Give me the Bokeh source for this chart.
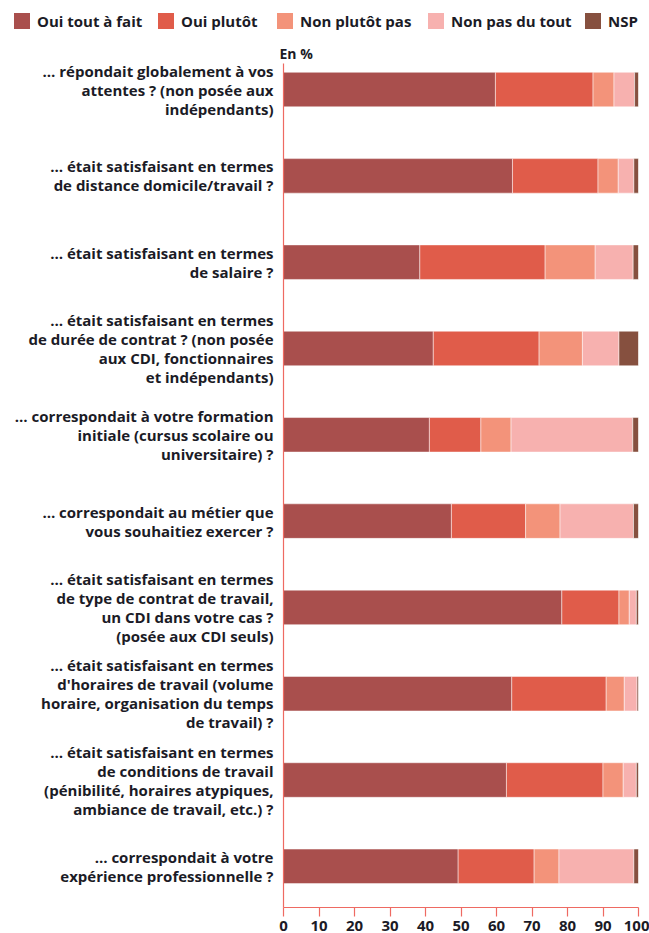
from bokeh.plotting import figure
from bokeh.layouts import column
from bokeh.models import Range1d, FixedTicker, Title, ColumnDataSource, Div
from bokeh.embed import file_html
from bokeh.resources import INLINE

questions = [
    "… répondait globalement à vos\nattentes ? (non posée aux\nindépendants)",
    "… était satisfaisant en termes\nde distance domicile/travail ?",
    "… était satisfaisant en termes\nde salaire ?",
    "… était satisfaisant en termes\nde durée de contrat ? (non posée\naux CDI, fonctionnaires\net indépendants)",
    "… correspondait à votre formation\ninitiale (cursus scolaire ou\nuniversitaire) ?",
    "… correspondait au métier que\nvous souhaitiez exercer ?",
    "… était satisfaisant en termes\nde type de contrat de travail,\nun CDI dans votre cas ?\n(posée aux CDI seuls)",
    "… était satisfaisant en termes\nd'horaires de travail (volume\nhoraire, organisation du temps\nde travail) ?",
    "… était satisfaisant en termes\nde conditions de travail\n(pénibilité, horaires atypiques,\nambiance de travail, etc.) ?",
    "… correspondait à votre\nexpérience professionnelle ?",
]

oui_tout_a_fait = [59.7, 64.5, 38.4, 42.2, 41.1, 47.3, 78.4, 64.3, 62.8, 49.2]
oui_plutot = [27.5, 24.1, 35.3, 29.8, 14.5, 20.9, 16.1, 26.6, 27.2, 21.4]
non_plutot_pas = [5.9, 5.7, 14.1, 12.2, 8.5, 9.7, 2.9, 5.1, 5.7, 7.0]
non_pas_du_tout = [5.8, 4.4, 10.7, 10.3, 34.3, 20.7, 2.0, 3.6, 3.7, 21.1]
nsp = [1.1, 1.3, 1.5, 5.5, 1.6, 1.4, 0.6, 0.4, 0.6, 1.3]

series_names = ["Oui tout à fait", "Oui plutôt", "Non plutôt pas", "Non pas du tout", "NSP"]
series_keys = ["oui_tout_a_fait", "oui_plutot", "non_plutot_pas", "non_pas_du_tout", "nsp"]
colors = ["#A94F4D", "#E05C4A", "#F3937A", "#F7B1AF", "#86503F"]
x_ticks = [0, 10, 20, 30, 40, 50, 60, 70, 80, 90, 100]
unit_label = "En %"

TEXT = "#1b1b26"
AXIS = "#EE6A62"
FONT = "Open Sans"
W = 649
LEG_H = 40
MAIN_H = 933 - LEG_H
LEG_SLOTS = [144, 119, 151, 157, 60]   # horizontal room for each legend entry (px)

pos = list(range(len(questions)))
source = ColumnDataSource(dict(
    y=pos,
    oui_tout_a_fait=oui_tout_a_fait,
    oui_plutot=oui_plutot,
    non_plutot_pas=non_plutot_pas,
    non_pas_du_tout=non_pas_du_tout,
    nsp=nsp,
))

# ---------- main chart ----------
p = figure(width=W, height=MAIN_H, x_range=Range1d(0, 100),
           y_range=Range1d(9.477, -0.302),
           output_backend="svg", toolbar_location=None,
           min_border_left=283, min_border_right=11, min_border_top=23,
           min_border_bottom=10)

renderers = p.hbar_stack(series_keys, y="y", height=0.4, color=colors,
                         source=source, line_color="white", line_width=0.6,
                         line_alpha=0.8)

p.xgrid.visible = False
p.ygrid.visible = False
p.outline_line_color = None
p.background_fill_color = "white"
p.border_fill_color = "white"

xa = p.xaxis[0]
xa.ticker = FixedTicker(ticks=x_ticks)
xa.axis_line_color = AXIS
xa.axis_line_width = 1.2
xa.major_tick_line_color = AXIS
xa.major_tick_line_width = 1.2
xa.major_tick_out = 9
xa.major_tick_in = 0
xa.minor_tick_line_color = None
xa.major_label_text_font = FONT
xa.major_label_text_font_style = "bold"
xa.major_label_text_font_size = "15px"
xa.major_label_text_color = TEXT
xa.major_label_standoff = 4

ya = p.yaxis[0]
ya.ticker = FixedTicker(ticks=pos)
ya.major_label_overrides = {i: q for i, q in enumerate(questions)}
ya.axis_line_color = AXIS
ya.axis_line_width = 1.2
ya.major_tick_line_color = None
ya.minor_tick_line_color = None
ya.major_tick_out = 0
ya.major_tick_in = 0
ya.major_label_standoff = 10
ya.major_label_text_font = FONT
ya.major_label_text_font_style = "bold"
ya.major_label_text_font_size = "15px"
ya.major_label_text_color = TEXT
ya.major_label_text_line_height = 0.95

p.add_layout(Title(text=unit_label, align="left", text_font=FONT,
                   text_font_style="bold", text_font_size="14px",
                   text_color=TEXT, offset=-4, standoff=2), "above")

# ---------- legend strip ----------
entries = []
for name, col, slot in zip(series_names, colors, LEG_SLOTS):
    entries.append(
        f'<div style="display:flex;align-items:center;width:{slot}px;flex:none;">'
        f'<span style="display:inline-block;width:16px;height:16px;background:{col};'
        f'margin-right:7px;flex:none;"></span>'
        f'<span style="white-space:nowrap;">{name}</span></div>'
    )
legend_html = (
    f'<div style="display:flex;align-items:center;padding:13px 0 0 14px;'
    f'font-family:\'{FONT}\';font-weight:bold;font-size:15px;line-height:16px;'
    f'color:{TEXT};">' + "".join(entries) + '</div>'
)
legend_div = Div(text=legend_html, width=W, height=LEG_H, margin=0)

layout = column(legend_div, p, spacing=0)
open("out.html", "w").write(file_html(layout, INLINE))
